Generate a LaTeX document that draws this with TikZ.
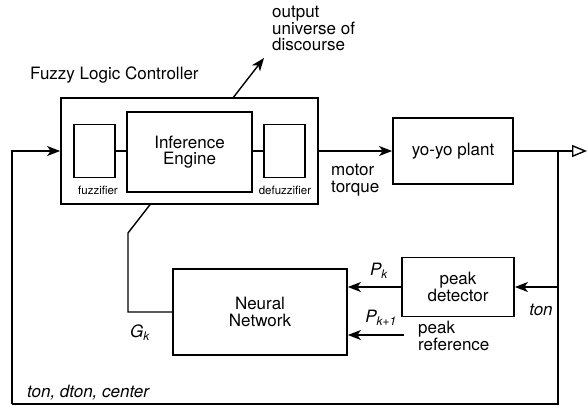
\documentclass[tikz,border=0pt]{standalone}
\usepackage{fontspec}
\setmainfont{TeX Gyre Heros}
\usetikzlibrary{arrows.meta,backgrounds}
\begin{document}
\begin{tikzpicture}[x=1pt,y=-1pt,
  box/.style={draw, line width=1.8pt, fill=white, inner sep=0pt, font=\fontsize{17}{16.5}\selectfont, align=center},
  thinbox/.style={draw, line width=1.3pt, fill=white, inner sep=0pt, font=\fontsize{17}{16.5}\selectfont, align=center},
  lbl/.style={font=\fontsize{17}{16.5}\selectfont, inner sep=0pt, align=left},
  small/.style={font=\fontsize{11.5}{12}\selectfont, inner sep=0pt},
  sig/.style={line width=1.4pt},
  arr/.style={line width=1.4pt, -{Stealth[length=13pt,width=10pt,inset=3.5pt]}},
  openarr/.style={line width=1.4pt, -{Triangle[open,length=15pt,width=12pt]}}
]
\useasboundingbox (0,0) rectangle (588,408);

% blocks
\node[box, minimum width=257pt, minimum height=106pt] (FLC) at (189.5,151) {};
\node[thinbox, minimum width=41pt, minimum height=53pt] (fz) at (94.5,151) {};
\node[thinbox, minimum width=125pt, minimum height=80pt] (IE) at (189.5,152) {Inference\\Engine};
\node[thinbox, minimum width=41pt, minimum height=53pt] (dfz) at (284.5,151) {};
\node[box, minimum width=120pt, minimum height=66pt] (plant) at (453,151) {yo-yo plant};
\node[box, minimum width=112pt, minimum height=59pt] (pd) at (458,287) {peak\\detector};
\node[box, minimum width=174pt, minimum height=86pt] (NN) at (260,312) {Neural\\Network};

% coordinates
\coordinate (g1) at (128,233);
\coordinate (gtip) at (264,58);
\coordinate (br0) at (558,151);
\coordinate (br) at (558,404);
\coordinate (bl) at (12,404);
\coordinate (out) at (587,151);
\coordinate (tap) at (558,287);
\coordinate (pr) at (404,335);

% adaptation line through the controller (hidden by the box)
\begin{scope}[on background layer]
\draw[arr] (NN.west) -| (g1) -- (gtip);
\end{scope}

% connectors
\draw[sig] (fz.east) -- (IE.west |- fz.east);
\draw[sig] (IE.east |- dfz.west) -- (dfz.west);
\draw[arr] (FLC.east) -- (plant.west);
\draw[openarr] (plant.east) -- (out);
\draw[sig] (br0) -- (br) -- (bl);
\draw[arr] (bl) |- (FLC.west);
\draw[arr] (tap) -- (pd.east);
\draw[arr] (pd.west) -- (pd.west -| NN.east);
\draw[arr] (pr) -- (pr -| NN.east);

% labels
\node[lbl, anchor=west] (title) at (30,75) {Fuzzy Logic Controller};
\node[lbl, anchor=north west] (oud) at (272,6) {output\\universe of\\discourse};
\node[lbl, anchor=north west] (mt) at (331,164) {motor\\torque};
\node[small] (fzl) at (98,190) {fuzzifier};
\node[small] (dfzl) at (285,190) {defuzzifier};
\node[lbl] (pk) at (379,271) {\itshape P\textsubscript{k}};
\node[lbl] (pk1) at (381,318) {\itshape P\textsubscript{k+1}};
\node[lbl, anchor=north west] (pref) at (418,321) {peak\\reference};
\node[lbl] (ton) at (541,310) {\itshape ton};
\node[lbl] (gk) at (140,333) {\itshape G\textsubscript{k}};
\node[lbl, anchor=west] (tdc) at (27,393) {\itshape ton, dton, center};
\end{tikzpicture}
\end{document}
